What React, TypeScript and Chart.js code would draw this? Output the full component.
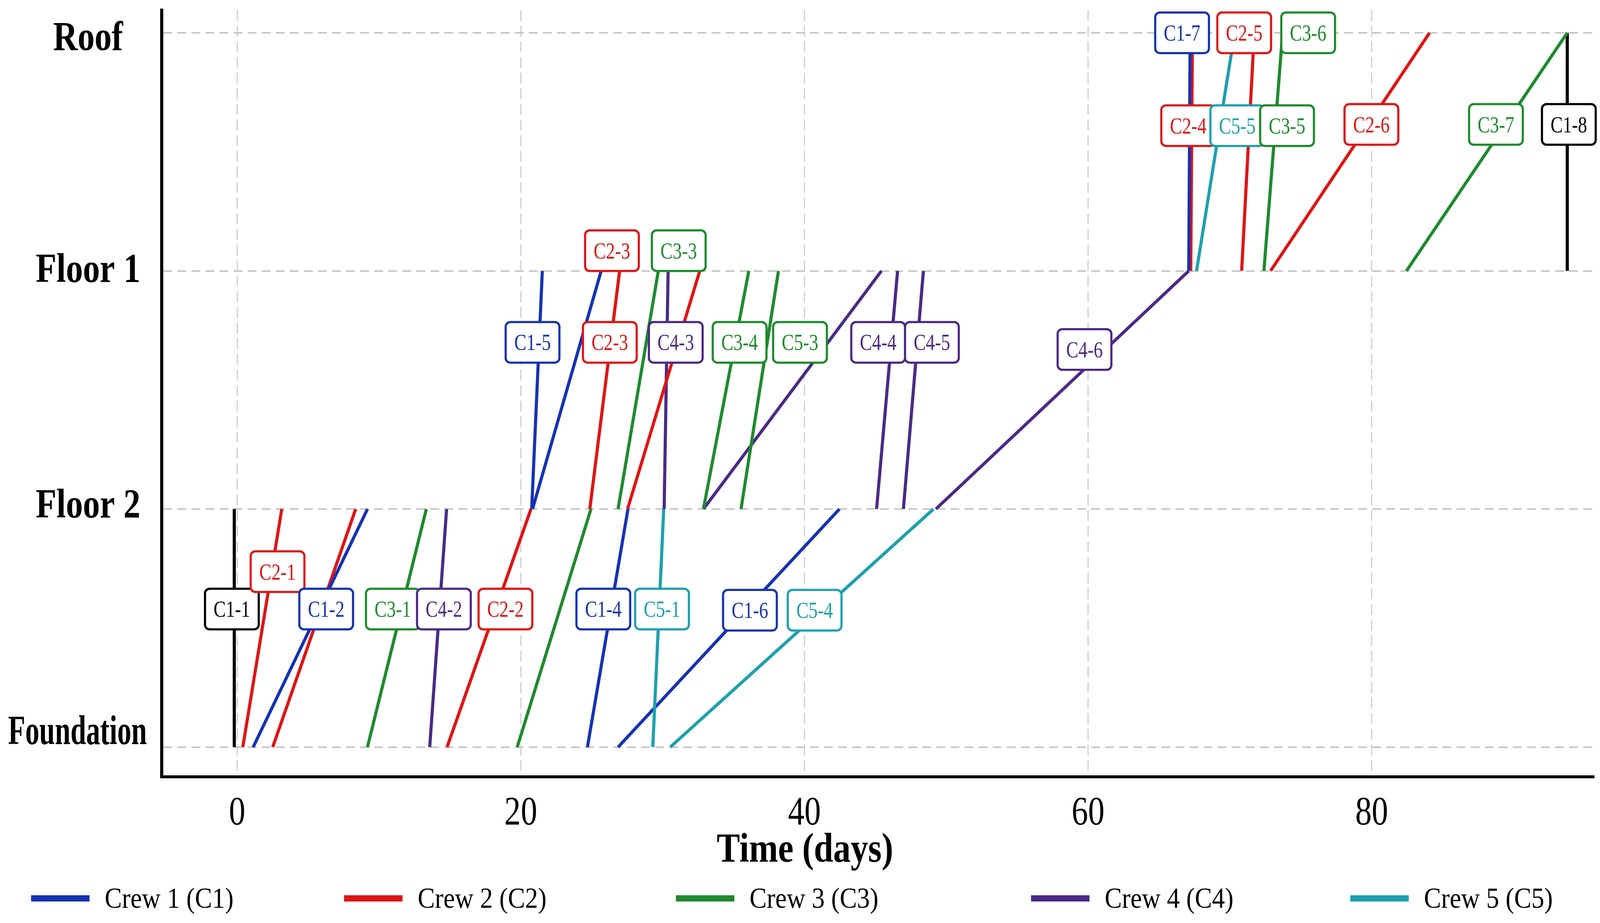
import { useEffect, useRef } from 'react';
import { Chart, registerables } from 'chart.js';

Chart.register(...registerables);

// axis categories / ticks
const levelNames = ['Foundation', 'Floor 2', 'Floor 1', 'Roof'];
const levelTicks = [0, 1, 2, 3];
const dayTicks = [0, 20, 40, 60, 80];

// legend
const crewKeys = ['C1', 'C2', 'C3', 'C4', 'C5'];
const crewNames = ['Crew 1 (C1)', 'Crew 2 (C2)', 'Crew 3 (C3)', 'Crew 4 (C4)', 'Crew 5 (C5)'];

// line-of-balance segments: crew, start level, start day, end day (ends one level up)
const segCrew = [
  'K', 'C2', 'C1', 'C2', 'C3', 'C4', 'C2', 'C3', 'C1', 'C5', 'C1', 'C5',
  'C1', 'C1', 'C2', 'C3', 'C2', 'C4', 'C3', 'C3', 'C4', 'C4', 'C4', 'C4',
  'C1', 'C2', 'C5', 'C2', 'C3', 'C2', 'C3', 'K',
];
const segFrom = [
  0, 0, 0, 0, 0, 0, 0, 0, 0, 0, 0, 0,
  1, 1, 1, 1, 1, 1, 1, 1, 1, 1, 1, 1,
  2, 2, 2, 2, 2, 2, 2, 2,
];
const segStart = [
  -0.2, 0.4, 1.13, 2.51, 9.19, 13.58, 14.8, 19.75, 24.7, 29.31, 26.86, 30.54,
  20.77, 20.83, 24.87, 26.86, 27.53, 30.11, 32.88, 35.53, 32.88, 45.09, 46.98, 49.27,
  67.1, 67.24, 67.65, 70.83, 72.4, 72.87, 82.45, 93.79,
];
const segEnd = [
  -0.2, 3.15, 9.19, 8.36, 13.34, 14.77, 20.72, 24.95, 27.56, 30.08, 42.47, 49.1,
  21.52, 25.67, 26.97, 29.7, 32.62, 30.39, 36.08, 38.17, 45.43, 46.57, 48.39, 67.1,
  67.2, 67.36, 70.34, 71.72, 73.72, 84.08, 93.79, 93.79,
];

// activity tags
const tagText = [
  'C1-1', 'C2-1', 'C1-2', 'C3-1', 'C4-2', 'C2-2', 'C1-4', 'C5-1', 'C1-6', 'C5-4',
  'C1-5', 'C2-3', 'C4-3', 'C3-4', 'C5-3', 'C4-4', 'C4-5', 'C4-6', 'C2-3', 'C3-3',
  'C1-7', 'C2-5', 'C3-6', 'C2-4', 'C5-5', 'C3-5', 'C2-6', 'C3-7', 'C1-8',
];
const tagCrew = [
  'K', 'C2', 'C1', 'C3', 'C4', 'C2', 'C1', 'C5', 'C1', 'C5',
  'C1', 'C2', 'C4', 'C3', 'C3', 'C4', 'C4', 'C4', 'C2', 'C3',
  'C1', 'C2', 'C3', 'C2', 'C5', 'C3', 'C2', 'C3', 'K',
];
const tagDay = [
  -0.37, 2.85, 6.28, 10.98, 14.58, 18.92, 25.82, 29.96, 36.16, 40.72,
  20.83, 26.28, 30.93, 35.43, 39.69, 45.2, 48.99, 59.75, 26.43, 31.14,
  66.63, 71.01, 75.52, 67.06, 70.52, 74.03, 79.98, 88.76, 93.9,
];
const tagLevel = [
  0.58, 0.737, 0.58, 0.58, 0.58, 0.58, 0.58, 0.58, 0.575, 0.575,
  1.7, 1.7, 1.7, 1.7, 1.7, 1.7, 1.7, 1.67, 2.085, 2.085,
  3.0, 3.0, 3.0, 2.61, 2.61, 2.61, 2.615, 2.615, 2.615,
];

const colors: Record<string, string> = {
  K: '#000000',
  C1: '#1632b4',
  C2: '#e01414',
  C3: '#1e8a2e',
  C4: '#4a2a86',
  C5: '#1ca0ae',
};

// layout is designed on a 4325 x 2363 sheet and scaled to the viewport
const SHEET_W = 4325;
const SHEET_H = 2363;
const SERIF = "'Liberation Serif', 'Times New Roman', serif";
const yLabelDrop = [-8, 22, 28, 44];
const legendX = [84, 930, 1827, 2787, 3650];

function squeezeText(ctx: CanvasRenderingContext2D, text: string, x: number, y: number, sx: number, align: CanvasTextAlign) {
  ctx.save();
  ctx.translate(x, y);
  ctx.scale(sx, 1);
  ctx.textAlign = align;
  ctx.fillText(text, 0, 0);
  ctx.restore();
}

const overlay = {
  id: 'overlay',
  afterDatasetsDraw(chart: any) {
    const { ctx, scales: { x, y } } = chart;
    const s = chart.height / SHEET_H;
    ctx.save();
    ctx.font = `${60 * s}px ${SERIF}`;
    ctx.textBaseline = 'alphabetic';
    tagText.forEach((t, i) => {
      const px = x.getPixelForValue(tagDay[i]);
      const py = y.getPixelForValue(tagLevel[i]);
      const w = ctx.measureText(t).width * 0.78 + 44 * s;
      const h = 104 * s;
      const c = colors[tagCrew[i]];
      ctx.beginPath();
      ctx.roundRect(px - w / 2, py - h / 2, w, h, 12 * s);
      ctx.fillStyle = '#ffffff';
      ctx.fill();
      ctx.lineWidth = 5.5 * s;
      ctx.strokeStyle = c;
      ctx.stroke();
      ctx.fillStyle = c;
      squeezeText(ctx, t, px, py + 20 * s, 0.78, 'center');
    });
    ctx.restore();
  },
  afterDraw(chart: any) {
    const { ctx, scales: { x, y } } = chart;
    const sx = chart.width / SHEET_W;
    const sy = chart.height / SHEET_H;
    ctx.save();
    ctx.fillStyle = '#000000';
    ctx.textBaseline = 'alphabetic';

    // y tick labels
    ctx.font = `bold ${106 * sy}px ${SERIF}`;
    levelNames.forEach((name, i) => {
      const py = y.getPixelForValue(levelTicks[i]);
      const natural = ctx.measureText(name).width;
      const k = Math.min(0.82, (375 * sx) / natural);
      const cx = Math.min(238 * sx, 397 * sx - (natural * k) / 2);
      squeezeText(ctx, name, cx, py + yLabelDrop[i] * sy, k, 'center');
    });

    // x tick labels
    ctx.font = `${104 * sy}px ${SERIF}`;
    dayTicks.forEach((v) => {
      squeezeText(ctx, String(v), x.getPixelForValue(v), 2111 * sy, 0.81, 'center');
    });

    // x title
    ctx.font = `bold ${105 * sy}px ${SERIF}`;
    squeezeText(ctx, 'Time (days)', 2176 * sx, 2206 * sy, 0.85, 'center');

    // legend
    ctx.font = `${75 * sy}px ${SERIF}`;
    crewKeys.forEach((key, i) => {
      ctx.fillStyle = colors[key];
      ctx.fillRect(legendX[i] * sx, 2292 * sy, 158 * sx, 16 * sy);
      ctx.fillStyle = '#000000';
      squeezeText(ctx, crewNames[i], (legendX[i] + 199) * sx, 2324 * sy, 0.88, 'left');
    });
    ctx.restore();
  },
};

export default function App() {
  const boxRef = useRef<HTMLDivElement>(null);
  const canvasRef = useRef<HTMLCanvasElement>(null);

  useEffect(() => {
    document.body.style.margin = '0';
    document.body.style.overflow = 'hidden';
    if (!canvasRef.current || !boxRef.current) return;

    const sx = boxRef.current.clientWidth / SHEET_W;
    const sy = boxRef.current.clientHeight / SHEET_H;

    const datasets = segCrew.map((crew, i) => ({
      data: [
        { x: segStart[i], y: segFrom[i] },
        { x: segEnd[i], y: segFrom[i] + 1 },
      ],
      showLine: true,
      borderColor: colors[crew],
      backgroundColor: colors[crew],
      borderWidth: 8 * sy,
      pointRadius: 0,
    }));

    const chart = new Chart(canvasRef.current, {
      type: 'scatter',
      data: { datasets },
      options: {
        animation: false,
        responsive: true,
        maintainAspectRatio: false,
        layout: {
          padding: { left: 437 * sx, right: 16 * sx, top: 26 * sy, bottom: 374 * sy },
        },
        plugins: { legend: { display: false }, tooltip: { enabled: false } },
        scales: {
          x: {
            type: 'linear',
            min: -5.32,
            max: 95.68,
            afterBuildTicks: (axis: any) => {
              axis.ticks = dayTicks.map((v) => ({ value: v }));
            },
            ticks: { display: false },
            grid: { color: '#cccccc', lineWidth: 3 * sx, drawTicks: false },
            border: { display: true, color: '#000000', width: 8 * sx, dash: [28 * sy, 12 * sy] },
          },
          y: {
            type: 'linear',
            min: -0.125,
            max: 3.095,
            afterBuildTicks: (axis: any) => {
              axis.ticks = levelTicks.map((v) => ({ value: v }));
            },
            ticks: { display: false },
            grid: { color: '#c6c6c6', lineWidth: 4 * sy, drawTicks: false },
            border: { display: true, color: '#000000', width: 8 * sy, dash: [24 * sx, 14 * sx] },
          },
        },
      },
      plugins: [overlay],
    });

    return () => {
      chart.destroy();
    };
  }, []);

  return (
    <div ref={boxRef} style={{ position: 'relative', width: '100vw', height: '100vh', background: '#ffffff' }}>
      <canvas ref={canvasRef}></canvas>
    </div>
  );
}
